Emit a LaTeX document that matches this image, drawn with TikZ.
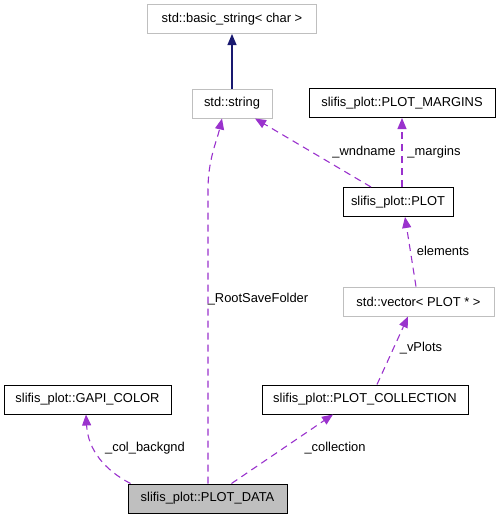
\documentclass[tikz,border=0pt]{standalone}
\usepackage{fontspec}
\setmainfont{Liberation Sans}
\usetikzlibrary{arrows.meta}
\definecolor{dep}{HTML}{9A32CD}
\definecolor{inh}{HTML}{191970}
\definecolor{gborder}{HTML}{BFBFBF}
\begin{document}
\begin{tikzpicture}[x=1pt,y=-1pt,
  every node/.style={font=\fontsize{12.9}{14}\selectfont},
  cls/.style={draw=black,line width=1pt,inner sep=0pt,minimum height=29pt},
  ext/.style={draw=gborder,line width=1pt,inner sep=0pt,minimum height=29pt},
  depedge/.style={draw=dep,line width=1.1pt,dash pattern=on 7pt off 5pt,-{Triangle[length=11pt,width=9pt,fill=dep]}},
  inhedge/.style={draw=inh,line width=1.1pt,-{Triangle[length=11pt,width=9pt,fill=inh]}},
  lbl/.style={inner sep=0pt}]
\useasboundingbox (0,0) rectangle (500,520);
\node[ext,minimum width=169pt] (basic) at (232,19) {std::basic\_string< char >};
\node[ext,minimum width=80pt] (string) at (232,103.5) {std::string};
\node[cls,minimum width=186pt] (margins) at (402,103) {slifis\_plot::PLOT\_MARGINS};
\node[cls,minimum width=110pt] (plot) at (398,202) {slifis\_plot::PLOT};
\node[ext,minimum width=151pt] (vector) at (418.5,301.5) {std::vector< PLOT * >};
\node[cls,minimum width=206pt] (coll) at (365,399.5) {slifis\_plot::PLOT\_COLLECTION};
\node[cls,minimum width=167pt] (gapi) at (87.5,399.5) {slifis\_plot::GAPI\_COLOR};
\node[cls,fill=gborder,minimum width=159pt] (pdata) at (207.5,498.5) {slifis\_plot::PLOT\_DATA};

\draw[inhedge] (string.north) -- (basic.south);

\draw[depedge] ([xshift=0.5pt]pdata.north) -- ++(0,-294) .. controls ++(0,-30) and ++(-5,22) .. ([xshift=-10pt]string.south);
\node[lbl] (l1) at (258,299) {\_RootSaveFolder};

\draw[depedge] ([xshift=-27pt]plot.north) -- ([xshift=23pt]string.south);
\node[lbl] (l2) at (364,152) {\_wndname};

\draw[depedge] ([xshift=4pt]plot.north) -- (margins.south);
\node[lbl] (l3) at (434,152) {\_margins};

\draw[depedge] ([xshift=-2.5pt]vector.north) -- ([xshift=7pt]plot.south);
\node[lbl] (l4) at (443,251) {elements};

\draw[depedge] ([xshift=12pt]coll.north) -- ([xshift=-10.5pt]vector.south);
\node[lbl] (l5) at (421,348) {\_vPlots};

\draw[depedge] ([xshift=-77pt]pdata.north) .. controls ++(-25,-13) and ++(2,36) .. ([xshift=-1.5pt]gapi.south);
\node[lbl] (l6) at (145,448) {\_col\_backgnd};

\draw[depedge] ([xshift=24pt]pdata.north) -- ([xshift=-32pt]coll.south);
\node[lbl] (l7) at (335,448) {\_collection};
\end{tikzpicture}
\end{document}
